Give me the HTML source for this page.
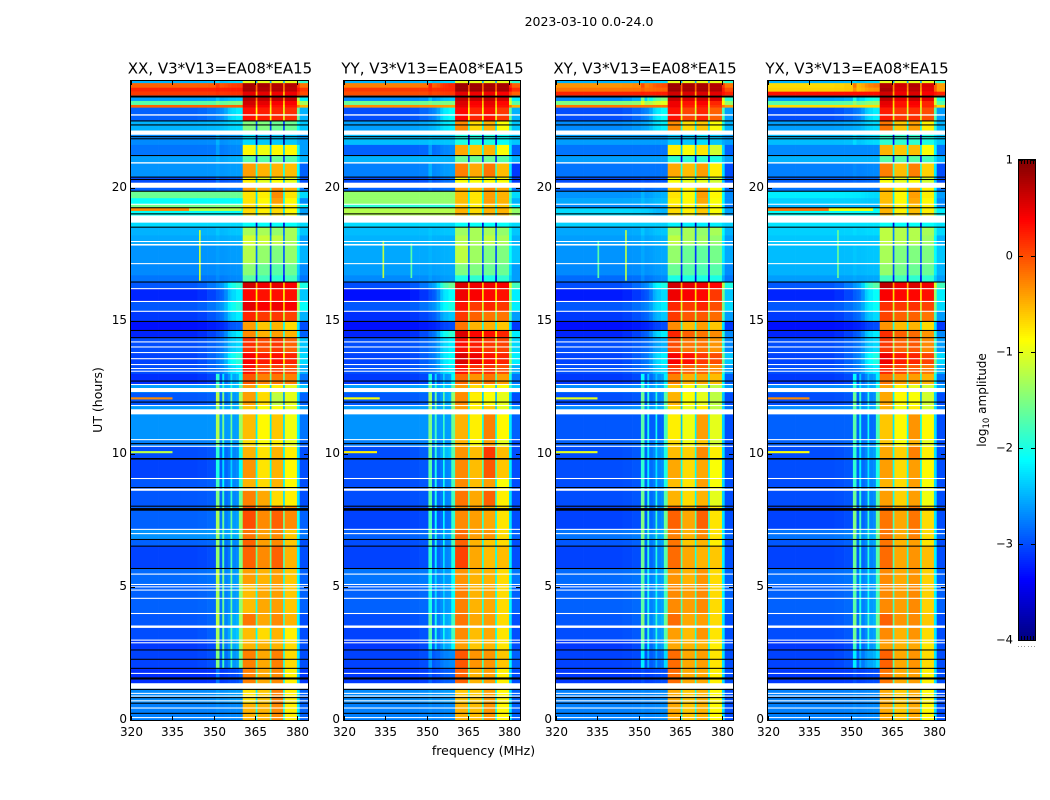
<!DOCTYPE html>
<html lang="en">
<head>
<meta charset="utf-8">
<title>2023-03-10 0.0-24.0</title>
<style>
html,body{margin:0;padding:0;background:#fff;}
svg{display:block;font-family:"DejaVu Sans","Liberation Sans",sans-serif;}
text{fill:#000;}
</style>
</head>
<body>
<svg id="chart" xmlns="http://www.w3.org/2000/svg" width="1050" height="800" viewBox="0 0 1050 800">
  <text x="589" y="26" font-size="12.5" text-anchor="middle">2023-03-10 0.0-24.0</text>
  <text x="483.5" y="755" font-size="12.5" text-anchor="middle">frequency (MHz)</text>
  <text transform="translate(102 400) rotate(-90)" font-size="12.5" text-anchor="middle">UT (hours)</text>
  <text transform="translate(986 400) rotate(-90)" font-size="12" text-anchor="middle">log<tspan font-size="8.5" dy="3">10</tspan><tspan dy="-3"> amplitude</tspan></text>
  <g id="panels"></g>
  <g id="colorbar"></g>
</svg>
<script>
// Panel titles
const panelTitles = ["XX, V3*V13=EA08*EA15", "YY, V3*V13=EA08*EA15", "XY, V3*V13=EA08*EA15", "YX, V3*V13=EA08*EA15"];
const panelNames = ["xx", "yy", "xy", "yx"];
// Tick labels
const freqTicks = [320, 335, 350, 365, 380];
const timeTicks = [0, 5, 10, 15, 20];
const colorTicks = [-4, -3, -2, -1, 0, 1];
// Time segment boundaries in UT hours, top of plot downwards
const segmentEdges = [24,23.92,23.75,23.6,23.45,23.25,23.1,23,22.5,22.14,21.6,21.2,20.93,20.39,20,19.86,19.6,19.37,19.24,18.95,18.51,18.2,17.82,17.14,16.7,16.45,16.2,15.72,15.35,14.97,14.63,14.36,13.8,13.35,13,12.6,12.3,11.81,11.48,10.53,10.28,9.81,9.07,8.6,8.03,7.16,6.78,6.53,5.69,5.09,4,3.5,3,2.63,1.94,1.38,0.6,0];
// Frequency channel boundaries in MHz
const channelEdges = [320,330,338,344,347.5,350.7,352,353,353.7,355,356,356.6,358,359,360.4,365.1,365.7,370.2,370.8,375,375.6,380,381,384];
// Which measured level each channel shows
const channelSource = ["m","m","m","m","m","r","m","r","m","m","r","m","m","r","1","g","2","g","3","g","4","e","t"];
// Share of the ramp level in each channel below the passband
const channelMix = [0,0,0,0.05,0.15,0.25,0.3,0.35,0.5,0.75,0.85,0.9,1,1,0,0,0,0,0,0,0,0,0];
// How far each interference channel sits below the row's rfi level
const channelDrop = [0,0,0,0,0,0,0,0.3,0,0,0.35,0,0,0.1,0,0,0,0,0,0,0,0,0];
// Log10 amplitude per segment: [below-ramp, ramp, rfi, band1, band2, band3, band4, tail]
const xxLevels = [
[-2.5,-2.3,-2.3,-1,-1,-1,-1,-1.9],[-.1,.1,.1,.8,.8,.75,.75,-.2],[.2,.25,.25,.8,.75,.75,.7,.1],[.1,.15,.15,.5,.5,.45,.45,0],[-2.6,-2.4,-2.4,.75,.7,.7,.7,-2.2],[-1.7,-1.5,-1.5,.6,.5,.4,.4,-1.3],[-.1,-.1,-.1,.5,.4,.3,.3,-.5],[-2.9,-2.2,-4,.3,.25,.2,.15,-2.5],[-2.5,-2.3,-4,-1.5,-1.5,-1.6,-1.6,-2.4],[-2.7,-2.6,-2.5,-2.3,-2.4,-2.4,-2.4,-2.6],
[-2.8,-2.7,-2.6,-.85,-.95,-.85,-.85,-2.6],[-2.6,-2.5,-2.5,-1.7,-1.7,-1.6,-1.7,-2.5],[-2.65,-2.6,-2.6,-.4,-.5,-.5,-.55,-2.9],[-3,-2.9,-2.8,-.8,-1,-.9,-1,-3],[-2.9,-2.8,-2.8,-.4,-.5,-.3,-.5,-2.8],[-1.6,-1.6,-1.6,-.75,-.8,-.3,-.75,-2.3],[-2.1,-2.1,-2.1,-.75,-.85,-.4,-.85,-2.7],[-1.55,-1.5,-1.5,-.7,-.8,-.7,-.8,-2.2],[-2.1,-2.1,-2.1,-.7,-.8,-.7,-.85,-2.6],[-2.3,-2.3,-2.3,-2.1,-2.1,-2.1,-2.1,-2.3],
[-2.5,-2.4,-2.4,-1.3,-1.3,-1.4,-1.3,-2.4],[-2.55,-2.5,-2.5,-1.1,-1.15,-1.2,-1.3,-2.6],[-2.65,-2.6,-2.6,-1.25,-1.4,-1.5,-1.4,-2.5],[-2.7,-2.65,-2.65,-1.45,-1.6,-1.7,-1.6,-2.7],[-2.8,-2.7,-2.7,-1.7,-1.8,-1.9,-1.8,-2.8],[-2.95,-1.9,-4,.6,.45,.5,.4,-2],[-3.2,-2.2,-4,.35,.3,.3,.3,-2.4],[-2.95,-1.95,-4,.5,.4,.45,.4,-2.1],[-3.1,-2.2,-4,.2,.1,.1,.05,-2.5],[-3.3,-2.9,-4,-.4,-.6,-.5,-.7,-3],
[-3.2,-2.2,-4,-.3,-.5,-.4,-.5,-2.9],[-3,-2.3,-4,.15,0,.1,-.1,-2.4],[-3.05,-1.95,-4,.4,.25,.3,.2,-2.3],[-3,-2.2,-4,.3,.05,.1,0,-2.5],[-3.15,-2.5,-1.9,-.05,-.25,-.2,-.25,-2.8],[-2.6,-2.4,-1.6,-.4,-.8,-.8,-1,-2.4],[-2.95,-2.6,-1.2,-.4,-.7,-1.2,-1,-2.9],[-2.6,-2.5,-1.4,-.6,-.9,-.9,-1,-2.6],[-2.65,-2.6,-1.25,-.55,-.85,-.6,-.95,-2.8],[-2.75,-2.65,-1.5,-.7,-.9,-.8,-1,-2.9],
[-3,-2.7,-1.9,-.5,-.75,-.5,-.8,-3],[-3.05,-2.7,-2,-.35,-.75,-.5,-.85,-3],[-2.95,-2.7,-1.8,-.5,-.7,-.5,-.85,-3],[-2.95,-2.7,-1.5,-.25,-.45,-.7,-.8,-3],[-2.9,-2.6,-1.3,0,-.3,-.1,-.3,-2.9],[-2.65,-2.5,-1.4,-.2,-.4,-.3,-.6,-2.8],[-2.9,-2.7,-1.4,-.1,-.4,-.3,-.6,-3],[-3.05,-2.7,-1.4,-.1,-.3,-.1,-.5,-3],[-2.85,-2.6,-1.2,-.4,-.5,-.4,-.6,-2.9],[-2.9,-2.6,-1.3,-.55,-.45,-.4,-.6,-2.9],
[-2.95,-2.5,-1.2,-.2,-.45,-.3,-.5,-3],[-3,-2.4,-1.3,-.55,-.7,-.5,-.8,-3],[-3.1,-2.5,-1.3,-.5,-.5,-.5,-.7,-3],[-3.05,-2.6,-1.5,-.25,-.45,-.25,-.7,-3],[-3.15,-3,-2.8,-.25,-.45,-.3,-.8,-3.1],[-2.7,-2.6,-2.6,-.75,-.6,-.25,-.8,-2.9],[-2.75,-2.7,-2.7,-.5,-.5,-.3,-.8,-2.9]
];
const yyLevels = [
[-2.5,-2.3,-2.3,-1,-1,-1,-1,-1.9],[-.25,.2,.2,.85,.85,.8,.8,-.1],[.1,.2,.2,.85,.85,.8,.8,.15],[0,.1,.1,.5,.45,.45,.4,-.1],[-2.7,-2.4,-2.4,.7,.65,.7,.6,-2.2],[-1.6,-1.5,-1.5,.55,.4,.5,.35,-1.7],[-.3,-.4,-.4,.5,.35,.45,.3,-.5],[-3,-2.1,-4,.35,.2,.3,.1,-2.5],[-2.6,-2.2,-4,-.3,-.7,-.5,-.9,-2.4],[-2.45,-2.4,-2.4,-2,-2,-2,-2.1,-2.4],
[-2.9,-2.7,-2.6,-.45,-.6,-.5,-.9,-2.9],[-2.5,-2.5,-2.5,-1.6,-1.6,-1.6,-1.7,-2.5],[-2.75,-2.6,-2.5,-.25,-.45,-.2,-.55,-3.1],[-3,-2.8,-2.8,-.9,-.9,-.9,-.9,-3.1],[-2.9,-2.8,-2.8,-.45,-.55,-.3,-.45,-2.8],[-1.4,-1.4,-1.4,-.55,-.75,-.4,-.5,-2.3],[-1.4,-1.4,-1.4,-.55,-.75,-.4,-.5,-2.5],[-1.9,-1.9,-1.9,-.6,-.8,-.6,-.6,-2.2],[-1.25,-1.25,-1.25,-.5,-.7,-.5,-.5,-1.4],[-2.3,-2.3,-2.3,-2.1,-2.1,-2.1,-2.1,-2.3],
[-2.45,-2.4,-2.4,-1.35,-1.3,-1.3,-1.4,-2.4],[-2.5,-2.5,-2.45,-1.25,-1.3,-1.2,-1.3,-2.5],[-2.55,-2.5,-2.5,-1.2,-1.35,-1.5,-1.5,-2.4],[-2.6,-2.55,-2.55,-1.5,-1.5,-1.6,-1.6,-2.6],[-2.7,-2.6,-2.6,-2,-1.9,-2,-1.9,-2.6],[-3,-1.6,-4,.55,.45,.45,.4,-1.8],[-3.3,-2.1,-4,.45,.4,.35,.3,-2.2],[-2.95,-2,-4,.3,.1,.2,.1,-2.2],[-3.15,-2.4,-4,.1,-.1,-.2,-.2,-2.6],[-3.3,-3,-4,-.2,-.5,-.5,-.6,-3.1],
[-3.2,-1.9,-4,.55,.35,.3,.2,-2.2],[-3,-2.2,-4,.3,.25,.1,.05,-2.3],[-3.05,-2.1,-4,.55,.45,.3,.2,-2.2],[-3,-2.2,-4,.3,.15,.15,0,-2.5],[-3.1,-2.6,-2,-.15,-.35,-.2,-.4,-2.8],[-2.6,-2.4,-1.6,-.4,-.7,-.8,-.9,-2.4],[-2.95,-2.5,-1.3,-.3,-.8,-.9,-1,-3],[-2.6,-2.5,-1.4,-.4,-.8,-.6,-1,-2.6],[-2.65,-2.6,-1.5,-.5,-.8,-.25,-.85,-2.9],[-2.75,-2.65,-1.6,-.5,-.9,-.4,-1,-3],
[-3,-2.4,-1.6,-.35,-.55,.1,-.55,-3],[-3,-2.7,-1.7,-.3,-.55,-.05,-.6,-3],[-3,-2.7,-1.7,-.3,-.55,-.4,-.9,-3],[-3,-2.7,-1.7,-.2,-.45,-.1,-.8,-3],[-3.05,-2.8,-1.8,-.3,-.4,-.45,-.75,-3],[-2.9,-2.6,-1.7,-.15,-.4,-.35,-.7,-2.9],[-3,-2.7,-1.7,-.1,-.5,-.6,-.7,-3],[-3.05,-2.7,-1.9,.05,-.45,-.55,-.55,-3],[-2.8,-2.6,-2,-.35,-.5,-.5,-.7,-2.8],[-2.9,-2.6,-2,-.25,-.5,-.45,-.7,-2.9],
[-3,-2.5,-1.7,-.2,-.45,-.4,-.7,-3],[-3.05,-2.5,-1.7,-.3,-.55,-.45,-.75,-3],[-3.1,-2.5,-2,-.4,-.6,-.5,-.75,-3],[-3.05,-2.7,-2.6,-.05,-.35,-.35,-.6,-2.9],[-3.1,-2.9,-2.9,-.1,-.5,-.4,-.8,-3],[-2.7,-2.6,-2.6,-.6,-.6,-.4,-.85,-2.9],[-2.75,-2.7,-2.7,-.5,-.55,-.35,-.85,-2.9]
];
const xyLevels = [
[-2.5,-2.3,-2.3,-1,-1,-1,-1,-1.9],[-.35,0,0,.85,.8,.8,.75,-.2],[-.2,-.1,-.1,.85,.8,.8,.75,0],[.2,.25,.25,.6,.55,.55,.5,.2],[-2.7,-1.5,-1.5,.65,.55,.6,.55,-1.9],[-1.5,-1,-1,.45,.3,.4,.2,-1.4],[-.2,-.2,-.2,.45,.25,.3,.1,-.4],[-3,-2.1,-4,.3,.05,.2,-.1,-2.6],[-2.7,-2.2,-4,-.3,-.7,-.6,-.9,-2.5],[-2.6,-2.6,-2.6,-2.4,-2.4,-2.3,-2.4,-2.6],
[-2.8,-2.8,-2.8,-.8,-.9,-.75,-1.1,-2.9],[-2.6,-2.6,-2.6,-1.9,-1.9,-1.9,-2,-2.6],[-2.8,-2.8,-2.8,-.45,-.55,-.4,-.8,-3],[-3,-2.95,-2.95,-.9,-1,-1,-1.1,-3],[-2.9,-2.8,-2.8,-.6,-.8,-.4,-.9,-2.9],[-2.65,-2.5,-2.5,-.75,-.85,-.4,-.85,-2.7],[-2.55,-2.45,-2.45,-.8,-.85,-.45,-.9,-2.7],[-2.7,-2.6,-2.6,-.75,-.85,-.7,-.9,-2.8],[-2.3,-2.5,-2.5,-.7,-.8,-.6,-.9,-2.6],[-2.35,-2.35,-2.35,-2.2,-2.2,-2.2,-2.2,-2.35],
[-2.55,-2.4,-2.4,-1.35,-1.3,-1.4,-1.3,-2.5],[-2.6,-2.5,-2.5,-1.2,-1.3,-1.35,-1.4,-2.6],[-2.65,-2.55,-2.55,-1.4,-1.6,-1.65,-1.55,-2.55],[-2.7,-2.6,-2.6,-1.6,-1.7,-1.75,-1.7,-2.7],[-2.85,-2.7,-2.7,-2,-2,-2,-2,-2.8],[-3,-2,-4,.6,.5,.45,.35,-2],[-3.25,-2.3,-4,.45,.4,.35,.1,-2.4],[-2.95,-2.2,-4,.2,.1,.2,0,-2.3],[-3.1,-2.4,-4,.1,-.05,-.05,-.15,-2.6],[-3.3,-3,-4,-.3,-.55,-.4,-.6,-3.1],
[-3.2,-2.2,-4,.2,-.1,-.2,-.3,-2.7],[-3,-2.5,-4,0,-.2,-.2,-.35,-2.7],[-3.05,-2.2,-4,.4,.3,.1,0,-2.4],[-3,-2.3,-4,.1,-.1,-.1,-.3,-2.6],[-3.1,-2.6,-2.1,-.25,-.5,-.45,-.55,-2.9],[-2.7,-2.5,-1.9,-.6,-.9,-1.1,-1.2,-2.6],[-3,-2.7,-1.6,-.5,-.9,-1,-1.2,-3],[-2.7,-2.5,-1.7,-.7,-1,-.8,-1.2,-2.8],[-2.95,-2.9,-1.7,-.8,-.95,-.4,-1,-3],[-2.9,-2.7,-1.8,-.7,-.95,-.6,-1.1,-3],
[-3,-2.6,-1.9,-.55,-.65,-.3,-.8,-3],[-3,-2.7,-1.9,-.45,-.7,-.45,-.9,-3],[-3,-2.7,-1.9,-.55,-.75,-.4,-.9,-3],[-3,-2.7,-1.6,-.5,-.7,-.5,-1,-3],[-3.05,-2.7,-1.5,-.1,-.45,-.1,-.75,-3],[-2.8,-2.5,-1.5,-.25,-.5,-.3,-.75,-2.9],[-2.95,-2.6,-1.6,-.2,-.6,-.5,-.8,-3],[-3.05,-2.7,-1.6,-.15,-.45,-.5,-.6,-3],[-2.85,-2.6,-1.7,-.35,-.5,-.35,-.7,-2.9],[-2.9,-2.6,-1.7,-.3,-.4,-.3,-.7,-2.9],
[-2.95,-2.5,-1.5,-.15,-.45,-.4,-.7,-3],[-3,-2.6,-1.6,-.4,-.55,-.35,-.75,-3],[-3.1,-2.6,-1.8,-.45,-.5,-.5,-.8,-3],[-3.05,-2.8,-2.2,-.15,-.45,-.4,-.75,-3],[-3.1,-3,-3,-.15,-.45,-.45,-.8,-3],[-2.75,-2.7,-2.7,-.45,-.6,-.5,-.85,-3],[-2.75,-2.7,-2.7,-.45,-.6,-.5,-.85,-3]
];
const yxLevels = [
[-2.5,-2.3,-2.3,-1,-1,-1,-1,-1.9],[-.7,-.2,-.2,.75,.6,.75,.55,-.4],[-.65,-.35,-.35,.8,.55,.7,.5,-.4],[.3,.3,.3,.6,.45,.55,.4,.2],[-2.6,-2,-2,.7,.5,.65,.5,-2],[-1.7,-1.4,-1.4,.5,.3,.4,.2,-1.7],[-.7,-.7,-.7,.45,.3,.35,.2,-.7],[-3,-2.2,-4,.25,.1,.15,0,-2.6],[-2.6,-2.3,-4,-.2,-.6,-.4,-.8,-2.5],[-2.45,-2.3,-2.3,-1.9,-1.9,-1.9,-2,-2.4],
[-2.7,-2.7,-2.7,-.5,-.6,-.55,-.9,-2.8],[-2.5,-2.5,-2.5,-1.7,-1.7,-1.7,-1.8,-2.5],[-2.75,-2.7,-2.7,-.25,-.55,-.25,-.65,-3],[-2.9,-2.85,-2.85,-.9,-1,-.9,-1.1,-3],[-2.8,-2.8,-2.8,-.5,-.75,-.45,-.8,-2.8],[-2.2,-2.3,-2.3,-.55,-.85,-.4,-.8,-2.6],[-2.35,-2.4,-2.4,-.55,-.85,-.45,-.85,-2.7],[-2.5,-2.5,-2.5,-.6,-.8,-.6,-.8,-2.7],[-2.1,-2.1,-2.1,-.5,-.8,-.55,-.8,-2.2],[-2.25,-2.25,-2.25,-2.1,-2.1,-2.1,-2.1,-2.25],
[-2.35,-2.3,-2.3,-1.2,-1.25,-1.25,-1.3,-2.3],[-2.4,-2.4,-2.4,-1.2,-1.25,-1.25,-1.35,-2.5],[-2.45,-2.4,-2.4,-1.3,-1.5,-1.5,-1.5,-2.4],[-2.5,-2.45,-2.45,-1.4,-1.55,-1.6,-1.6,-2.5],[-2.6,-2.55,-2.55,-1.8,-1.8,-1.9,-1.9,-2.6],[-2.95,-1.7,-4,.7,.45,.55,.45,-1.8],[-3.2,-2.1,-4,.4,.35,.35,.3,-2.2],[-2.95,-2.1,-4,.15,.1,.15,.05,-2.3],[-3.1,-2.3,-4,.05,-.1,-.1,-.2,-2.6],[-3.3,-3,-4,-.35,-.55,-.5,-.7,-3.1],
[-3.2,-2.2,-4,.15,-.1,-.15,-.35,-2.7],[-3,-2.3,-4,.1,-.1,-.05,-.3,-2.6],[-3.05,-2,-4,.45,.25,.2,.05,-2.3],[-3,-2.2,-4,.2,.05,-.05,-.2,-2.5],[-3.1,-2.6,-2.1,-.2,-.4,-.4,-.5,-2.8],[-2.7,-2.5,-1.9,-.45,-.8,-1,-1.1,-2.6],[-3,-2.7,-1.6,-.45,-.85,-.9,-1.1,-3],[-2.7,-2.5,-1.7,-.5,-.95,-.8,-1.1,-2.8],[-2.9,-2.85,-1.7,-.6,-.85,-.35,-.85,-3],[-2.9,-2.7,-1.8,-.6,-.9,-.5,-1,-3],
[-3,-2.6,-1.9,-.45,-.65,-.25,-.8,-3],[-3,-2.7,-1.9,-.4,-.7,-.4,-.85,-3],[-3,-2.7,-1.9,-.5,-.7,-.4,-.9,-3],[-3,-2.7,-1.6,-.4,-.65,-.4,-.95,-3],[-3.05,-2.7,-1.5,-.2,-.45,-.2,-.7,-3],[-2.8,-2.5,-1.5,-.2,-.45,-.25,-.7,-2.9],[-2.95,-2.6,-1.6,-.2,-.5,-.4,-.75,-3],[-3.05,-2.7,-1.6,-.15,-.45,-.35,-.55,-3],[-2.85,-2.6,-1.7,-.3,-.45,-.35,-.65,-2.9],[-2.9,-2.6,-1.7,-.3,-.4,-.3,-.65,-2.9],
[-2.95,-2.5,-1.5,-.1,-.35,-.3,-.6,-3],[-3,-2.6,-1.6,-.3,-.5,-.35,-.7,-3],[-3.1,-2.6,-1.8,-.4,-.5,-.45,-.75,-3],[-3.05,-2.5,-2.2,-.1,-.45,-.35,-.7,-3],[-3.1,-3,-3,-.2,-.45,-.4,-.8,-3],[-2.75,-2.7,-2.7,-.45,-.6,-.45,-.85,-3],[-2.75,-2.7,-2.7,-.45,-.6,-.45,-.85,-3]
];
const panelLevels = [xxLevels, yyLevels, xyLevels, yxLevels];
// Narrow interference features: [panel, freq start, freq end, hour top, hour bottom, level]
const rfiFeatures = [
[0,344.6,345.2,18.4,16.5,-1.1],[1,334,334.6,18,16.6,-1.2],[1,344.2,344.8,17.9,16.6,-1.7],[2,335,335.6,18,16.6,-1.7],[2,345,345.6,18.4,16.5,-1.2],[3,345,345.6,18.4,16.6,-1.6],
[0,320,335,12.12,12.04,-.3],[1,320,333,12.12,12.04,-.9],[2,320,335,12.12,12.04,-1],[3,320,335,12.12,12.04,-.3],
[0,320,335,10.1,10.02,-1.2],[1,320,332,10.1,10.02,-.8],[2,320,335,10.1,10.02,-1],[3,320,335,10.1,10.02,-.9],
[0,320,341,19.24,19.12,-.3],[0,341,360,19.24,19.12,-1.2],[3,320,342,19.24,19.12,-.2],[3,342,358,19.24,19.12,-.9]
];
// Flagged intervals [hour top, hour bottom] shared by every panel
const whiteIntervals = [[22.75,22.7],[22.14,21.98],[20.95,20.9],[20.18,19.99],[19.39,19.35],[18.95,18.68],[17.99,17.95],[17.88,17.82],[17.16,17.12],[16.22,16.18],[15.74,15.7],[15.37,15.33],[14.22,14.18],[14.03,13.99],[13.82,13.78],[13.59,13.55],[13.37,13.33],[13.22,13.18],[13.12,13.08],[12.62,12.58],[12.47,12.32],[11.83,11.79],[11.67,11.48],[10.55,10.51],[10.3,10.26],[9.09,9.05],[8.69,8.61],[7.18,7.14],[7.02,6.98],[5.5,5.46],[5.11,5.07],[5.02,4.98],[4.9,4.86],[4.59,4.55],[4.02,3.98],[3.55,3.46],[3.02,2.98],[2.92,2.88],[1.77,1.73],[1.38,1.17],[1.02,.98],[.92,.88],[.74,.7],[.47,.43],[.11,.07]];
const blackIntervals = [[23.45,23.38],[22.52,22.48],[22.37,22.33],[21.93,21.89],[21.85,21.81],[21.22,21.18],[20.41,20.37],[20.32,20.28],[19.88,19.84],[19.26,19.22],[19.03,18.99],[18.53,18.49],[16.47,16.43],[14.99,14.95],[14.65,14.61],[14.38,14.34],[12.75,12.71],[11.96,11.92],[10.4,10.36],[9.84,9.78],[8.75,8.71],[8.05,8.01],[7.96,7.86],[6.8,6.76],[6.55,6.51],[5.71,5.67],[2.65,2.61],[2.3,2.26],[1.96,1.92],[1.6,1.52],[1.17,1.13],[.86,.82],[.65,.61],[.27,.23]];
// Fractions along the colorbar width holding the short edge ticks
const colorEdgeTicks = [0.15, 0.33, 0.5, 0.67, 0.85];
const colorEdgeDots = [0, 0.2, 0.4, 0.6, 0.8, 1];

const SVGNS = "http://www.w3.org/2000/svg";
const panelLeft = [131, 344, 556, 768];
const panelWidths = [177, 176, 177, 177];
const plotTop = 81, plotBottom = 720;
const freqMin = 320, freqMax = 384, hourMin = 0, hourMax = 24;
const cbarLeft = 1019, cbarWidth = 16, cbarTop = 160, cbarBottom = 640, cbarMin = -4, cbarMax = 1;

function xScale(panel, f){ return panelLeft[panel] + (f - freqMin) / (freqMax - freqMin) * panelWidths[panel]; }
function yScale(h){ return plotBottom - (h - hourMin) / (hourMax - hourMin) * (plotBottom - plotTop); }
function cScale(v){ return cbarBottom - (v - cbarMin) / (cbarMax - cbarMin) * (cbarBottom - cbarTop); }
function jet(v){
  const t = Math.max(0, Math.min(1, (v - cbarMin) / (cbarMax - cbarMin)));
  const ch = function(c){ return Math.round(255 * Math.max(0, Math.min(1, 1.5 - Math.abs(4 * t - c)))); };
  return "rgb(" + ch(3) + "," + ch(2) + "," + ch(1) + ")";
}
function shape(tag, attrs, parent){
  const el = document.createElementNS(SVGNS, tag);
  Object.keys(attrs).forEach(function(k){ el.setAttribute(k, attrs[k]); });
  parent.appendChild(el);
  return el;
}
function cellLevel(row, c){
  const src = channelSource[c];
  const mixed = row[0] + (row[1] - row[0]) * channelMix[c];
  if (src === "m") return mixed;
  if (src === "r") return Math.max(mixed, row[2] - channelDrop[c]);
  if (src === "t") return row[7];
  if (src === "e") return (row[6] + row[7] * 2) / 3;
  if (src === "g") {
    const idx = (c - 15) / 2;
    const mean = (row[3 + idx] + row[4 + idx]) / 2;
    return mean - 1.5 + Math.max(0, mean + 0.5) * 0.45;
  }
  return row[2 + Number(src)];
}

const panelsRoot = document.getElementById("panels");
panelTitles.forEach(function(title, p){
  const pw = panelWidths[p];
  const g = shape("g", {}, panelsRoot);
  
  

  const rows = panelLevels[p];
  for (let s = 0; s < segmentEdges.length - 1; s++) {
    const y0 = yScale(segmentEdges[s]), y1 = yScale(segmentEdges[s + 1]);
    for (let c = 0; c < channelEdges.length - 1; c++) {
      const x0 = xScale(p, channelEdges[c]), x1 = xScale(p, channelEdges[c + 1]);
      const cell = shape("rect", {x: x0.toFixed(2), y: y0.toFixed(2), width: (x1 - x0 + 0.3).toFixed(2), height: (y1 - y0 + 0.3).toFixed(2), fill: jet(cellLevel(rows[s], c))}, g);
      
      
    }
  }
  rfiFeatures.forEach(function(r){
    if (r[0] !== p) return;
    const x0 = xScale(p, r[1]), x1 = xScale(p, r[2]), y0 = yScale(r[3]), y1 = yScale(r[4]);
    const mark = shape("rect", {x: x0.toFixed(2), y: y0.toFixed(2), width: (x1 - x0).toFixed(2), height: (y1 - y0).toFixed(2), fill: jet(r[5])}, g);
    
    
  });
  whiteIntervals.forEach(function(r){
    const y0 = yScale(r[0]), y1 = yScale(r[1]);
    const band = shape("rect", {x: panelLeft[p], y: y0.toFixed(2), width: pw, height: (y1 - y0).toFixed(2), fill: "#fff"}, g);
    
    
  });
  blackIntervals.forEach(function(r){
    const y0 = yScale(r[0]), y1 = yScale(r[1]);
    const band = shape("rect", {x: panelLeft[p], y: y0.toFixed(2), width: pw, height: (y1 - y0).toFixed(2), fill: "#000"}, g);
    
    
  });

  const frame = shape("rect", {x: panelLeft[p] - 0.5, y: plotTop - 0.5, width: pw + 1, height: plotBottom - plotTop + 1, fill: "none", stroke: "#000", "stroke-width": 1}, g);
  
  

  freqTicks.forEach(function(f){
    const x = Math.round(xScale(p, f)) + 0.5;
    const tb = shape("line", {x1: x, x2: x, y1: plotBottom, y2: plotBottom - 4, stroke: "#000"}, g);
    
    
    const tt = shape("line", {x1: x, x2: x, y1: plotTop, y2: plotTop + 4, stroke: "#000"}, g);
    
    
    const lab = shape("text", {x: x, y: plotBottom + 16, "font-size": 12, "text-anchor": "middle"}, g);
    lab.textContent = String(f);
    
    
  });
  timeTicks.forEach(function(h){
    const y = Math.round(yScale(h)) + 0.5;
    const tl = shape("line", {x1: panelLeft[p], x2: panelLeft[p] + 4, y1: y, y2: y, stroke: "#000"}, g);
    
    
    const tr = shape("line", {x1: panelLeft[p] + pw, x2: panelLeft[p] + pw - 4, y1: y, y2: y, stroke: "#000"}, g);
    
    
    const lab = shape("text", {x: panelLeft[p] - 4, y: y + 2.5, "font-size": 12, "text-anchor": "end"}, g);
    lab.textContent = String(h);
    
    
  });
  const head = shape("text", {x: panelLeft[p] + pw / 2 + 0.5, y: 73.5, "font-size": 15, "text-anchor": "middle"}, g);
  head.textContent = title;
  
  
});

const cbarRoot = document.getElementById("colorbar");
for (let i = 0; i < cbarBottom - cbarTop; i += 2) {
  const v = cbarMax - (i + 1) / (cbarBottom - cbarTop) * (cbarMax - cbarMin);
  const swatch = shape("rect", {x: cbarLeft, y: cScale(v) - 1, width: cbarWidth, height: 2.3, fill: jet(v)}, cbarRoot);
  
  
}
const cbarFrame = shape("rect", {x: cbarLeft - 0.5, y: cbarTop - 0.5, width: cbarWidth + 1, height: cbarBottom - cbarTop + 1, fill: "none", stroke: "#000"}, cbarRoot);


colorEdgeTicks.forEach(function(frac){
  const x = Math.round(cbarLeft + frac * cbarWidth) + 0.5;
  const top = shape("line", {x1: x, x2: x, y1: cbarTop, y2: cbarTop + 4, stroke: "#000"}, cbarRoot);
  
  
  const bottom = shape("line", {x1: x, x2: x, y1: cbarBottom, y2: cbarBottom - 4, stroke: "#000"}, cbarRoot);
  
  
});
colorEdgeDots.forEach(function(frac){
  const dot = shape("rect", {x: Math.round(cbarLeft - 1 + frac * cbarWidth), y: 646, width: 1, height: 1, fill: "#999"}, cbarRoot);
  
  
});
colorTicks.forEach(function(v){
  const y = Math.round(cScale(v)) + 0.5;
  const t1 = shape("line", {x1: cbarLeft, x2: cbarLeft + 4, y1: y, y2: y, stroke: "#000"}, cbarRoot);
  
  
  const t2 = shape("line", {x1: cbarLeft + cbarWidth, x2: cbarLeft + cbarWidth - 4, y1: y, y2: y, stroke: "#000"}, cbarRoot);
  
  
  const lab = shape("text", {x: cbarLeft - 6, y: y + 3, "font-size": 11.5, "text-anchor": "end"}, cbarRoot);
  lab.textContent = v < 0 ? "\u2212" + Math.abs(v) : String(v);
  
  
});
</script>
</body>
</html>
